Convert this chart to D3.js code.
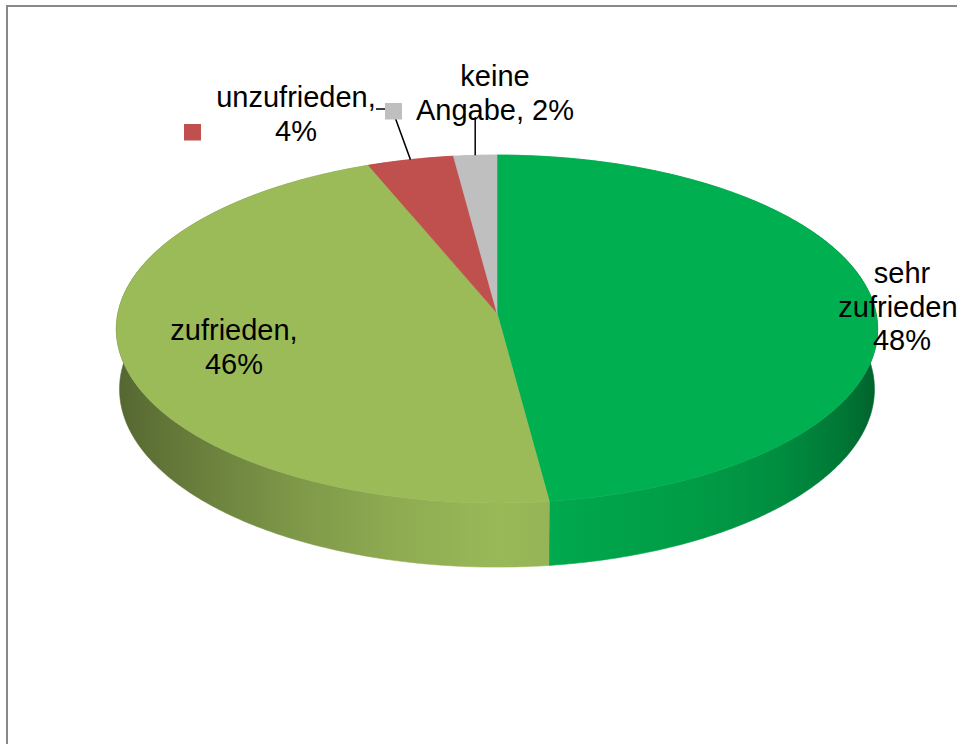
<!DOCTYPE html>
<html>
<head>
<meta charset="utf-8">
<script src="https://cdn.jsdelivr.net/npm/d3@7"></script>
<style>
  html, body { margin: 0; padding: 0; background: #fff; overflow: hidden; }
  svg { display: block; }
  text { font-family: "Liberation Sans", Arial, sans-serif; }
</style>
</head>
<body>
<svg id="chart" width="957" height="744"></svg>
<script>
// Survey answers and their shares (percent)
const categories = ["sehr zufrieden", "zufrieden", "unzufrieden", "keine Angabe"];
const values = [48, 46, 4, 2];
const colors = ["#00B050", "#9BBB59", "#C0504D", "#BFBFBF"];

const W = 957, H = 744;
const svg = d3.select("#chart");

// Outer chart frame (continues past the visible area on the right and bottom)
svg.append("rect")
  .attr("x", 7).attr("y", 6)
  .attr("width", 1000).attr("height", 800)
  .attr("fill", "#fff")
  .attr("stroke", "#898989")
  .attr("stroke-width", 2);

// ---- 3D perspective projection of the pie disc ----
const view = {
  cx: 497, cy: 313,      // projected disc centre
  focal: 3669,           // focal length (px)
  dist: 9.68,            // camera distance in disc radii
  tilt: Math.asin(0.455),// elevation angle
  thick: 0.179           // disc thickness in disc radii
};
const sinT = Math.sin(view.tilt), cosT = Math.cos(view.tilt);

// angle a: clockwise from 12 o'clock (same convention as d3.pie); h: height (0 = top face)
function project(a, h) {
  const x = Math.sin(a), z = -Math.cos(a);
  const v = z * sinT - h * cosT;
  const w = view.dist - z * cosT - h * sinT;
  return [view.cx + view.focal * x / w, view.cy + view.focal * v / w];
}

function arcPoints(a0, a1, h) {
  const n = Math.max(2, Math.ceil(Math.abs(a1 - a0) / 0.01));
  return d3.range(n + 1).map(i => project(a0 + (a1 - a0) * i / n, h));
}

const pie = d3.pie().sort(null).value(d => d.value);
const arcs = pie(categories.map((c, i) => ({ category: c, value: values[i], color: colors[i] })));

const line = d3.line().curve(d3.curveLinear);

// Side-wall lighting: brightness factor across the disc width
const light = d3.scaleLinear()
  .domain([118, 160, 230, 300, 400, 500, 540, 600, 700, 780, 840, 876])
  .range([0.55, 0.62, 0.72, 0.82, 0.92, 0.99, 0.97, 0.93, 0.88, 0.8, 0.68, 0.56])
  .clamp(true);

const defs = svg.append("defs");
arcs.forEach((d, i) => {
  const g = defs.append("linearGradient")
    .attr("id", "side" + i)
    .attr("gradientUnits", "userSpaceOnUse")
    .attr("x1", 118).attr("x2", 876).attr("y1", 0).attr("y2", 0);
  const mix = d3.interpolateRgb("#000000", d.data.color);
  light.domain().forEach(x => {
    g.append("stop")
      .attr("offset", (x - 118) / (876 - 118))
      .attr("stop-color", mix(light(x)));
  });
});

const pieG = svg.append("g");

// Side walls first; the top faces cover the hidden parts
pieG.selectAll("path.side")
  .data(arcs)
  .join("path")
  .attr("class", "side")
  .attr("d", d => {
    const top = arcPoints(d.startAngle, d.endAngle, 0);
    const bottom = arcPoints(d.startAngle, d.endAngle, -view.thick).reverse();
    return line(top.concat(bottom)) + "Z";
  })
  .attr("fill", (d, i) => `url(#side${i})`)
  .attr("stroke", (d, i) => `url(#side${i})`)
  .attr("stroke-width", 0.6);

// Top faces
pieG.selectAll("path.top")
  .data(arcs)
  .join("path")
  .attr("class", "top")
  .attr("d", d => {
    const pts = [project(0, 0).map((v, k) => k === 0 ? view.cx : view.cy)]
      .concat(arcPoints(d.startAngle, d.endAngle, 0));
    return line(pts) + "Z";
  })
  .attr("fill", d => d.data.color)
  .attr("stroke", d => d.data.color)
  .attr("stroke-width", 0.6);

// ---- Data labels ----
const fontSize = 29;
const lineGap = 33.5;
const maxLabelWidth = 165;
// label anchor: centre x and first baseline y
const labelPos = [
  { x: 902, y: 283 },
  { x: 234, y: 340 },
  { x: 296, y: 107 },
  { x: 495, y: 86 }
];

const labelG = svg.append("g");

// Leader lines for the two thin slices
function rimPoint(d) {
  return project((d.startAngle + d.endAngle) / 2, 0);
}
const leaders = [
  { i: 2, pts: d => [[376, 109], [392, 109], rimPoint(d)] },
  { i: 3, pts: d => { const p = rimPoint(d); return [[p[0], 117], p]; } }
];
leaders.forEach(l => {
  labelG.append("path")
    .attr("d", line(l.pts(arcs[l.i])))
    .attr("fill", "none")
    .attr("stroke", "#000")
    .attr("stroke-width", 1.5);
});

// Legend keys next to the small-slice labels
const keyPos = [null, null, { x: 184, y: 124 }, { x: 385, y: 103 }];
arcs.forEach((d, i) => {
  if (!keyPos[i]) return;
  labelG.append("rect")
    .attr("x", keyPos[i].x).attr("y", keyPos[i].y)
    .attr("width", 17).attr("height", 16.5)
    .attr("fill", d.data.color);
});

// Wrap "category, value%" into centred lines
const measure = svg.append("text").attr("font-size", fontSize).attr("visibility", "hidden");
function textWidth(s) { measure.text(s); return measure.node().getComputedTextLength(); }

arcs.forEach((d, i) => {
  const words = (d.data.category + ", " + d.data.value + "%").split(" ");
  const lines = [];
  let cur = "";
  words.forEach(w => {
    const test = cur ? cur + " " + w : w;
    if (cur && textWidth(test) > maxLabelWidth) { lines.push(cur); cur = w; }
    else cur = test;
  });
  if (cur) lines.push(cur);

  const t = labelG.append("text")
    .attr("font-size", fontSize)
    .attr("fill", "#000")
    .attr("text-anchor", "middle");
  lines.forEach((s, k) => {
    t.append("tspan")
      .attr("x", labelPos[i].x)
      .attr("y", labelPos[i].y + k * lineGap)
      .text(s);
  });
});
measure.remove();
</script>
</body>
</html>
